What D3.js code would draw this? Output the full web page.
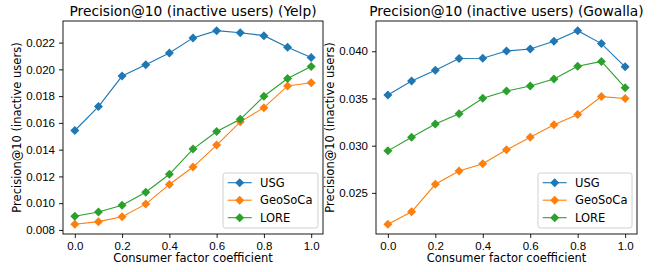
<!DOCTYPE html>
<html lang="en">
<head>
    <meta charset="UTF-8">
    <title>Precision@10 (inactive users)</title>
    <script src="https://d3js.org/d3.v7.min.js"></script>
    <style>
        body {
            margin: 0;
            padding: 0;
            background: #fff;
        }
        svg {
            display: block;
            font-family: 'DejaVu Sans', sans-serif;
        }
        .axis path,
        .axis line {
            stroke: #000;
            stroke-width: 0.9;
        }
        .axis text {
            font-size: 11.5px;
            fill: #000;
        }
    </style>
</head>
<body>
    <svg width="657" height="272"></svg>

    <script>
        // Data
        const coeffs = [0.0, 0.1, 0.2, 0.3, 0.4, 0.5, 0.6, 0.7, 0.8, 0.9, 1.0];
        const seriesNames = ["USG", "GeoSoCa", "LORE"];
        const seriesColors = ["#1f77b4", "#ff7f0e", "#2ca02c"];

        const yelpUSG     = [0.01543, 0.01722, 0.01950, 0.02035, 0.02123, 0.02235, 0.02289, 0.02274, 0.02252, 0.02166, 0.02089];
        const yelpGeoSoCa = [0.00842, 0.00862, 0.00899, 0.00993, 0.01140, 0.01270, 0.01434, 0.01608, 0.01714, 0.01876, 0.01900];
        const yelpLORE    = [0.00902, 0.00934, 0.00984, 0.01082, 0.01216, 0.01404, 0.01536, 0.01627, 0.01799, 0.01932, 0.02022];

        const gowallaUSG     = [0.03537, 0.03685, 0.03800, 0.03923, 0.03926, 0.04003, 0.04024, 0.04105, 0.04218, 0.04081, 0.03835];
        const gowallaGeoSoCa = [0.02167, 0.02300, 0.02591, 0.02731, 0.02808, 0.02956, 0.03089, 0.03222, 0.03330, 0.03520, 0.03500];
        const gowallaLORE    = [0.02945, 0.03089, 0.03229, 0.03338, 0.03503, 0.03579, 0.03632, 0.03706, 0.03842, 0.03892, 0.03614];

        const xTicks = [0.0, 0.2, 0.4, 0.6, 0.8, 1.0];
        const yelpTicks = [0.008, 0.010, 0.012, 0.014, 0.016, 0.018, 0.020, 0.022];
        const gowallaTicks = [0.025, 0.030, 0.035, 0.040];

        const svg = d3.select("svg");

        // diamond marker path
        function diamond(cx, cy, r) {
            return `M${cx},${cy - r}L${cx + r},${cy}L${cx},${cy + r}L${cx - r},${cy}Z`;
        }

        function drawPanel(opts) {
            const { left, right, top, bottom, title, series, yTicks, yFmt } = opts;

            const x = d3.scaleLinear().domain([-0.05, 1.05]).range([left, right]);

            // matplotlib-style 5% margins
            const all = series.flat();
            const lo = d3.min(all), hi = d3.max(all), pad = (hi - lo) * 0.05;
            const y = d3.scaleLinear().domain([lo - pad, hi + pad]).range([bottom, top]);

            const g = svg.append("g");

            // lines + markers
            series.forEach((vals, i) => {
                const pts = coeffs.map((c, j) => [c, vals[j]]);
                g.append("path")
                    .datum(pts)
                    .attr("fill", "none")
                    .attr("stroke", seriesColors[i])
                    .attr("stroke-width", 1.1)
                    .attr("d", d3.line().x(d => x(d[0])).y(d => y(d[1])));

                g.selectAll(null)
                    .data(pts)
                    .join("path")
                    .attr("d", d => diamond(x(d[0]), y(d[1]), 4.5))
                    .attr("fill", seriesColors[i]);
            });

            // frame
            g.append("rect")
                .attr("x", left)
                .attr("y", top)
                .attr("width", right - left)
                .attr("height", bottom - top)
                .attr("fill", "none")
                .attr("stroke", "#000")
                .attr("stroke-width", 0.9);

            // axes
            g.append("g")
                .attr("class", "axis")
                .attr("transform", `translate(0,${bottom})`)
                .call(d3.axisBottom(x).tickValues(xTicks).tickFormat(d3.format(".1f")).tickSize(4).tickPadding(3.5))
                .call(a => a.select(".domain").remove());

            g.append("g")
                .attr("class", "axis")
                .attr("transform", `translate(${left},0)`)
                .call(d3.axisLeft(y).tickValues(yTicks).tickFormat(d3.format(yFmt)).tickSize(4).tickPadding(4))
                .call(a => a.select(".domain").remove());

            // title
            g.append("text")
                .attr("x", (left + right) / 2)
                .attr("y", top - 5)
                .attr("text-anchor", "middle")
                .attr("font-size", "13.8px")
                .text(title);

            // x label
            g.append("text")
                .attr("x", (left + right) / 2)
                .attr("y", bottom + 28)
                .attr("text-anchor", "middle")
                .attr("font-size", "11.5px")
                .text("Consumer factor coefficient");

            // y label
            g.append("text")
                .attr("transform", `translate(${left - 42},${(top + bottom) / 2}) rotate(-90)`)
                .attr("text-anchor", "middle")
                .attr("font-size", "11.5px")
                .text("Precision@10 (inactive users)");

            // legend
            const lw = opts.legendWidth, lh = 55;
            const lx = right - 5 - lw, ly = bottom - 6 - lh;
            const lg = g.append("g").attr("transform", `translate(${lx},${ly})`);
            lg.append("rect")
                .attr("width", lw)
                .attr("height", lh)
                .attr("rx", 2.5)
                .attr("fill", "rgba(255,255,255,0.8)")
                .attr("stroke", "#cccccc")
                .attr("stroke-width", 0.9);
            seriesNames.forEach((name, i) => {
                const cy = 9.7 + i * 17.5;
                lg.append("line")
                    .attr("x1", 4.7).attr("x2", 28.7)
                    .attr("y1", cy).attr("y2", cy)
                    .attr("stroke", seriesColors[i])
                    .attr("stroke-width", 1.1);
                lg.append("path")
                    .attr("d", diamond(16.7, cy, 4.5))
                    .attr("fill", seriesColors[i]);
                lg.append("text")
                    .attr("x", 37)
                    .attr("y", cy)
                    .attr("dy", "0.36em")
                    .attr("font-size", "11.5px")
                    .text(name);
            });
        }

        drawPanel({
            left: 63, right: 323, top: 21, bottom: 234,
            title: "Precision@10 (inactive users) (Yelp)",
            series: [yelpUSG, yelpGeoSoCa, yelpLORE],
            yTicks: yelpTicks, yFmt: ".3f",
            legendWidth: 95
        });

        drawPanel({
            left: 376, right: 637, top: 21, bottom: 234,
            title: "Precision@10 (inactive users) (Gowalla)",
            series: [gowallaUSG, gowallaGeoSoCa, gowallaLORE],
            yTicks: gowallaTicks, yFmt: ".3f",
            legendWidth: 94
        });
    </script>
</body>
</html>
